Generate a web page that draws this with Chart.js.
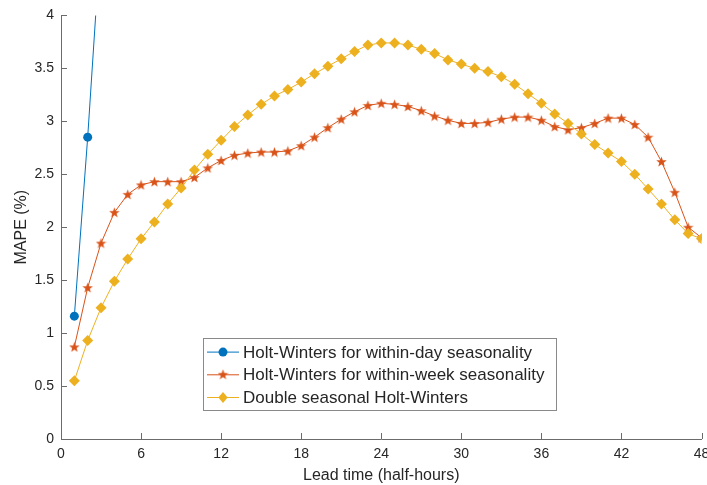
<!DOCTYPE html>
<html>
<head>
<meta charset="utf-8">
<title>MAPE by lead time</title>
<script src="https://cdn.jsdelivr.net/npm/chart.js@4"></script>
<style>
  html, body { margin: 0; padding: 0; background: #fff; }
  #wrap { width: 707px; height: 485px; }
</style>
</head>
<body>
<div id="wrap"><canvas id="mapeChart" width="707" height="485"></canvas></div>
<script>
// Lead times in half-hours
const leadTimes = [1, 2, 3, 4, 5, 6, 7, 8, 9, 10, 11, 12, 13, 14, 15, 16,
  17, 18, 19, 20, 21, 22, 23, 24, 25, 26, 27, 28, 29, 30, 31, 32,
  33, 34, 35, 36, 37, 38, 39, 40, 41, 42, 43, 44, 45, 46, 47, 48];

// MAPE (%) per method
const withinDay = [1.16, 2.85, 4.77];
const withinWeek = [0.87, 1.43, 1.85, 2.14, 2.31, 2.40, 2.43, 2.43, 2.43, 2.47, 2.56, 2.63,
  2.68, 2.70, 2.71, 2.71, 2.72, 2.77, 2.85, 2.94, 3.02, 3.09, 3.15, 3.17,
  3.16, 3.14, 3.10, 3.05, 3.01, 2.98, 2.98, 2.99, 3.02, 3.04, 3.04, 3.01,
  2.95, 2.92, 2.94, 2.98, 3.03, 3.03, 2.97, 2.85, 2.62, 2.33, 2.00, 1.90];
const doubleSeasonal = [0.55, 0.93, 1.24, 1.49, 1.70, 1.89, 2.05, 2.22, 2.37, 2.54, 2.69, 2.82,
  2.95, 3.06, 3.16, 3.24, 3.30, 3.37, 3.45, 3.52, 3.59, 3.66, 3.72, 3.74,
  3.74, 3.72, 3.68, 3.64, 3.58, 3.54, 3.50, 3.47, 3.42, 3.35, 3.26, 3.17,
  3.07, 2.98, 2.88, 2.78, 2.70, 2.62, 2.50, 2.36, 2.22, 2.07, 1.94, 1.89];

const seriesNames = [
  'Holt-Winters for within-day seasonality',
  'Holt-Winters for within-week seasonality',
  'Double seasonal Holt-Winters'
];

const xTicks = [0, 6, 12, 18, 24, 30, 36, 42, 48];
const yTicks = [0, 0.5, 1, 1.5, 2, 2.5, 3, 3.5, 4];

const BLUE = '#0072BD';
const RED = '#D95319';
const YELLOW = '#EDB120';
const TEXT = '#262626';
const AXIS = '#6b6b6b';
const FONT = "'Liberation Sans', Arial, Helvetica, sans-serif";

// five-pointed star marker, drawn once and reused as pointStyle
function makeStar(size, color) {
  const c = document.createElement('canvas');
  c.width = size; c.height = size;
  const g = c.getContext('2d');
  const cx = size / 2, cy = size / 2 + 0.5, R = size / 2, r = R * 0.42;
  g.beginPath();
  for (let i = 0; i < 10; i++) {
    const rad = i % 2 === 0 ? R : r;
    const a = -Math.PI / 2 + i * Math.PI / 5;
    const px = cx + rad * Math.cos(a), py = cy + rad * Math.sin(a);
    if (i === 0) g.moveTo(px, py); else g.lineTo(px, py);
  }
  g.closePath();
  g.fillStyle = color;
  g.fill();
  return c;
}
const starImg = makeStar(11, RED);

function toPoints(values) {
  return values.map((v, i) => ({ x: leadTimes[i], y: v }));
}

// inward tick marks on the left and bottom axes
const inwardTicks = {
  id: 'inwardTicks',
  afterDraw(chart) {
    const { ctx, chartArea } = chart;
    const xs = chart.scales.x, ys = chart.scales.y;
    ctx.save();
    ctx.strokeStyle = AXIS;
    ctx.lineWidth = 1;
    ctx.beginPath();
    xTicks.forEach(t => {
      const px = Math.round(xs.getPixelForValue(t)) + 0.5;
      ctx.moveTo(px, chartArea.bottom);
      ctx.lineTo(px, chartArea.bottom - 6);
    });
    yTicks.forEach(t => {
      const py = Math.round(ys.getPixelForValue(t)) + 0.5;
      ctx.moveTo(chartArea.left, py);
      ctx.lineTo(chartArea.left + 6, py);
    });
    ctx.stroke();
    ctx.restore();
  }
};

// boxed legend inside the plot area
const boxLegend = {
  id: 'boxLegend',
  afterDraw(chart) {
    const { ctx, chartArea } = chart;
    const left = chartArea.left + 142, top = chartArea.top + 323;
    const w = 353, h = 72, rowH = 22.7;
    ctx.save();
    ctx.fillStyle = '#fff';
    ctx.fillRect(left, top, w, h);
    ctx.strokeStyle = '#8a8a8a';
    ctx.lineWidth = 1;
    ctx.strokeRect(Math.round(left) + 0.5, Math.round(top) + 0.5, w, h);
    ctx.font = '17px ' + FONT;
    ctx.textBaseline = 'middle';
    chart.data.datasets.forEach((ds, i) => {
      const y = top + 13.7 + i * rowH;
      ctx.strokeStyle = ds.borderColor;
      ctx.lineWidth = 1;
      ctx.beginPath();
      ctx.moveTo(left + 4, y);
      ctx.lineTo(left + 36, y);
      ctx.stroke();
      const mx = left + 20;
      if (ds.pointStyle === 'circle') {
        ctx.fillStyle = ds.pointBackgroundColor;
        ctx.beginPath();
        ctx.arc(mx, y, ds.pointRadius, 0, Math.PI * 2);
        ctx.fill();
      } else if (ds.pointStyle === 'rectRot') {
        const r = ds.pointRadius;
        ctx.fillStyle = ds.pointBackgroundColor;
        ctx.beginPath();
        ctx.moveTo(mx, y - r); ctx.lineTo(mx + r * 0.85, y);
        ctx.lineTo(mx, y + r); ctx.lineTo(mx - r * 0.85, y);
        ctx.closePath();
        ctx.fill();
      } else {
        ctx.drawImage(ds.pointStyle, mx - 5.5, y - 6);
      }
      ctx.fillStyle = TEXT;
      ctx.fillText(ds.label, left + 40, y + 1);
    });
    ctx.restore();
  }
};

new Chart(document.getElementById('mapeChart'), {
  type: 'line',
  data: {
    datasets: [
      {
        label: seriesNames[0],
        data: toPoints(withinDay),
        borderColor: BLUE,
        backgroundColor: BLUE,
        pointBackgroundColor: BLUE,
        pointBorderWidth: 0,
        pointStyle: 'circle',
        pointRadius: 4.5,
        borderWidth: 1,
        order: 3
      },
      {
        label: seriesNames[1],
        data: toPoints(withinWeek),
        borderColor: RED,
        backgroundColor: RED,
        pointBackgroundColor: RED,
        pointBorderWidth: 0,
        pointStyle: starImg,
        pointRadius: 5,
        borderWidth: 1,
        order: 2
      },
      {
        label: seriesNames[2],
        data: toPoints(doubleSeasonal),
        borderColor: YELLOW,
        backgroundColor: YELLOW,
        pointBackgroundColor: YELLOW,
        pointBorderWidth: 0,
        pointStyle: 'rectRot',
        pointRadius: 5.5,
        borderWidth: 1,
        order: 1
      }
    ]
  },
  options: {
    responsive: false,
    animation: false,
    events: [],
    layout: { padding: { top: 14, right: 5, left: 0, bottom: 0 } },
    plugins: {
      legend: { display: false },
      tooltip: { enabled: false }
    },
    scales: {
      x: {
        type: 'linear',
        min: 0,
        max: 48,
        afterBuildTicks: s => { s.ticks = xTicks.map(v => ({ value: v })); },
        afterFit: s => { s.height = 46; s.paddingLeft = 0; s.paddingRight = 0; },
        grid: { display: false, drawTicks: false },
        border: { display: true, color: AXIS, width: 1 },
        ticks: { color: TEXT, font: { family: FONT, size: 14 }, padding: 7, maxRotation: 0 },
        title: {
          display: true,
          text: 'Lead time (half-hours)',
          color: TEXT,
          font: { family: FONT, size: 16 },
          padding: { top: 0, bottom: 0 }
        }
      },
      y: {
        min: 0,
        max: 4,
        afterBuildTicks: s => { s.ticks = yTicks.map(v => ({ value: v })); },
        afterFit: s => { s.width = 61; },
        grid: { display: false, drawTicks: false },
        border: { display: true, color: AXIS, width: 1 },
        ticks: {
          color: TEXT,
          font: { family: FONT, size: 14 },
          padding: 7,
          callback: v => String(v)
        },
        title: {
          display: true,
          text: 'MAPE (%)',
          color: TEXT,
          font: { family: FONT, size: 16 },
          padding: { top: 12, bottom: 0 }
        }
      }
    }
  },
  plugins: [inwardTicks, boxLegend]
});
</script>
</body>
</html>
